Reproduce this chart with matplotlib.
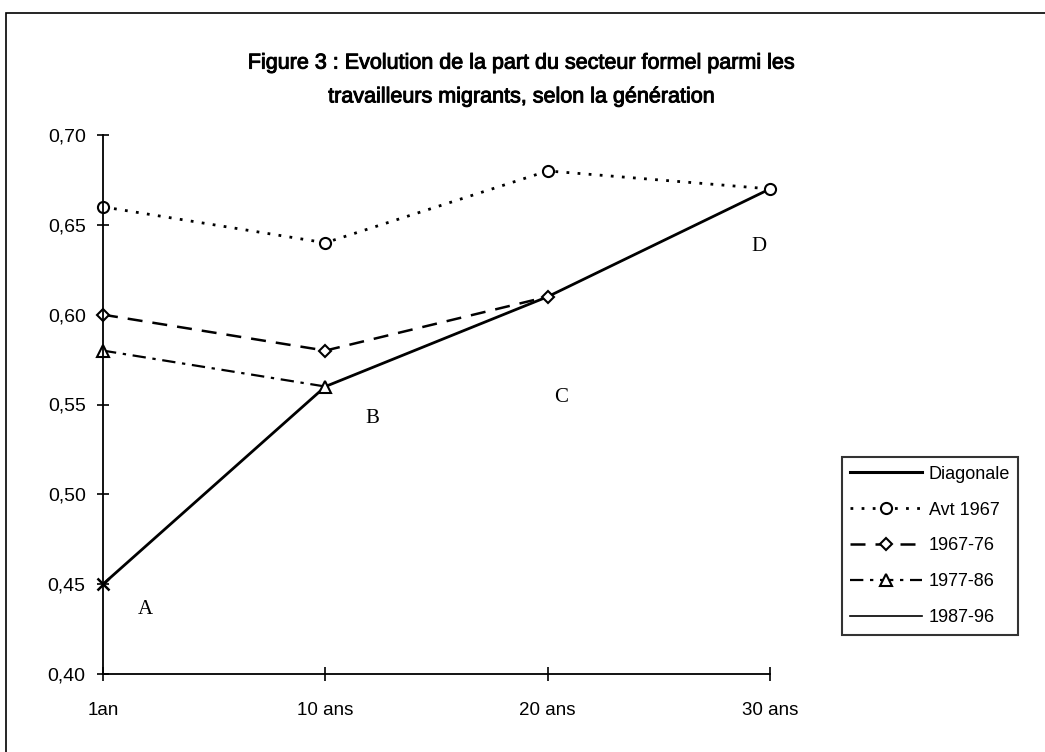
import matplotlib.pyplot as plt
import matplotlib.patheffects as pe
from matplotlib.lines import Line2D
from matplotlib.patches import Rectangle
import numpy as np

plt.rcParams['font.family'] = ['Liberation Sans', 'DejaVu Sans']

# données
categories = ['1an', '10 ans', '20 ans', '30 ans']
diagonale = [0.45, 0.56, 0.61, 0.67]
avt_1967 = [0.66, 0.64, 0.68, 0.67]
gen_1967_76 = [0.60, 0.58, 0.61]
gen_1977_86 = [0.58, 0.56]
gen_1987_96 = [0.45]
point_labels = ['A', 'B', 'C', 'D']
label_pos_x = [0.19, 1.21, 2.06, 2.95]
label_pos_y = [0.436, 0.542, 0.554, 0.638]

fig = plt.figure(figsize=(10.45, 7.52), dpi=100)
ax = fig.add_axes([103/1045, 1 - 674/752, (770-103)/1045, (674-135)/752])

# cadre de la figure (gauche et haut visibles)
fig.patches.append(Rectangle((6/1045, -0.1), 1.2, (752-13)/752 + 0.1, transform=fig.transFigure,
                             fill=False, edgecolor='black', linewidth=1.2))

x = np.arange(len(categories))
mk = dict(markerfacecolor='white', markeredgecolor='black', markeredgewidth=1.5, markersize=8)
mk_d = dict(markerfacecolor='white', markeredgecolor='black', markeredgewidth=1.5, markersize=6.5)

ax.plot(x, diagonale, color='black', linewidth=2, solid_capstyle='butt', clip_on=False)
ax.plot(x, avt_1967, color='black', linewidth=2, linestyle=(0, (1, 3)), marker='o', clip_on=False, **mk)
ax.plot(x[:len(gen_1967_76)], gen_1967_76, color='black', linewidth=1.8, linestyle=(0, (6, 4)),
        marker='D', clip_on=False, **mk_d)
ax.plot(x[:len(gen_1977_86)], gen_1977_86, color='black', linewidth=1.6, linestyle=(0, (6, 3, 1.5, 3)),
        marker='^', clip_on=False, **mk)
ax.plot(x[:len(gen_1987_96)], gen_1987_96, color='black', linewidth=1.2, marker='x',
        markersize=9, markeredgewidth=1.8, clip_on=False)

for lab, lx, ly in zip(point_labels, label_pos_x, label_pos_y):
    ax.text(lx, ly, lab, fontsize=15, family='Liberation Serif', ha='center', va='center')

ax.set_xlim(0, 3)
ax.set_ylim(0.40, 0.70)
ax.set_xticks(x)
ax.set_xticklabels(categories)
ax.set_yticks(np.arange(0.40, 0.701, 0.05))
ax.set_yticklabels([f'{v:.2f}'.replace('.', ',') for v in np.arange(0.40, 0.701, 0.05)])
ax.tick_params(axis='y', direction='inout', length=9, width=1.2, labelsize=14, pad=8)
ax.tick_params(axis='x', direction='inout', length=10, width=1.2, labelsize=13.5, pad=15)
for s in ['top', 'right']:
    ax.spines[s].set_visible(False)
for s in ['left', 'bottom']:
    ax.spines[s].set_linewidth(1.3)

fig.text(521/1045, 1 - 80/752,
         'Figure 3 : Evolution de la part du secteur formel parmi les\ntravailleurs migrants, selon la génération',
         ha='center', va='center', fontsize=15.5, linespacing=1.8,
         path_effects=[pe.withStroke(linewidth=0.7, foreground='black')])

handles = [
    Line2D([], [], color='black', linewidth=2.2),
    Line2D([], [], color='black', linewidth=2, linestyle=(0, (1, 3)), marker='o', **mk),
    Line2D([], [], color='black', linewidth=1.8, linestyle=(0, (6, 4)), marker='D', **mk_d),
    Line2D([], [], color='black', linewidth=1.6, linestyle=(0, (6, 3, 1.5, 3)), marker='^', **mk),
    Line2D([], [], color='black', linewidth=1.2),
]
labels = ['Diagonale', 'Avt 1967', '1967-76', '1977-86', '1987-96']
leg = fig.legend(handles, labels, loc='center', bbox_to_anchor=(930/1045, 1 - 546/752),
                 fontsize=13, frameon=True, fancybox=False, edgecolor='black',
                 handlelength=4, handletextpad=0.35, borderpad=0.45, labelspacing=1.05,
                 borderaxespad=0)
leg.get_frame().set_linewidth(1.5)

fig.savefig('out.png', dpi=100)
